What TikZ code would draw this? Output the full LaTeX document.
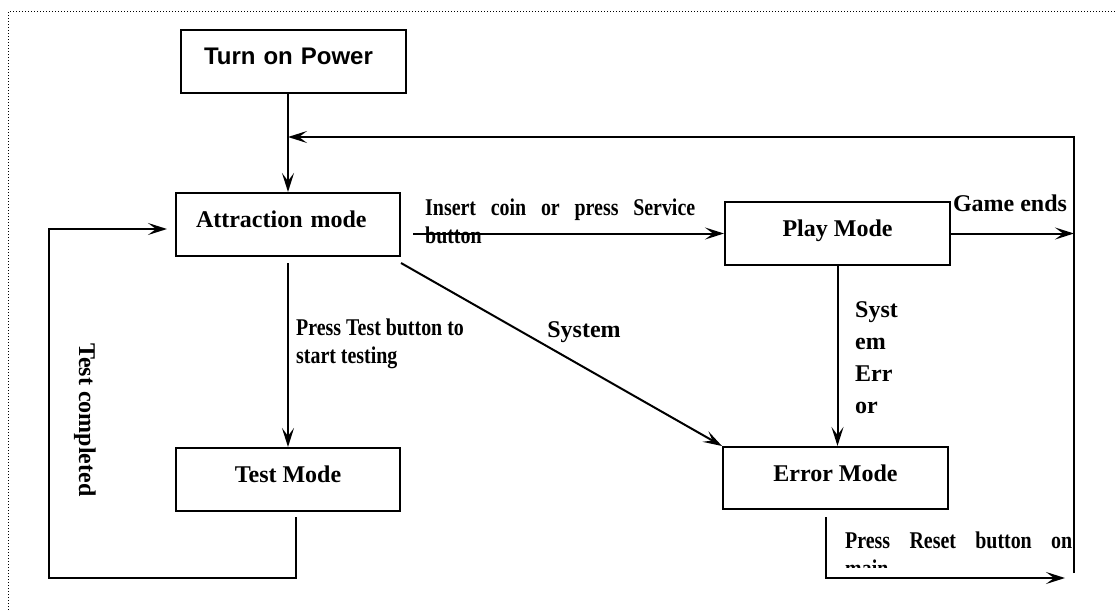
\documentclass[tikz,border=0pt]{standalone}
\usepackage{fontspec}
\setmainfont{Liberation Serif}
\newfontfamily\condfont{Liberation Serif}[FakeStretch=0.83]
\newfontfamily\arialfont{Liberation Sans}
\usetikzlibrary{positioning,arrows.meta,calc}
\newcommand\condset{\fontsize{24}{28}\selectfont\condfont\bfseries
  \hyphenpenalty=10000\relax\exhyphenpenalty=10000\relax}
\tikzset{
  modebox/.style={rectangle,draw,line width=2pt,minimum width=224pt,
                  minimum height=63pt,text height=17pt,text depth=11pt,
                  inner sep=0pt,font=\fontsize{24}{28}\selectfont\bfseries},
  flow/.style={-{Stealth[length=19pt,width=12pt,inset=8pt]},line width=2pt},
  note/.style={inner sep=0pt,font=\fontsize{24}{28}\selectfont\bfseries},
  condnote/.style={note,font=\condset},
}
\begin{document}
\begin{tikzpicture}[x=1pt,y=-1pt]
\useasboundingbox (0,0) rectangle (1115,610);
\draw[dotted,line width=1pt] (8,610) -- (8,12) -- (1115,12);

% the five modes
\node[modebox, inner xsep=23pt, text width=179pt, align=left,
      font=\fontsize{24}{28}\selectfont\arialfont\bfseries]
      (power) at (293.5,61.5) {Turn on Power};
\node[modebox, inner xsep=20pt, text width=184pt, align=left]
      (attract) at (288,224.5) {Attraction mode};
\node[modebox, minimum width=225pt] (play) at (837.5,233.5) {Play Mode};
\node[modebox] (testm) at (288,479.5) {Test Mode};
\node[modebox, minimum width=225pt, minimum height=62pt] (errm) at (835.5,478) {Error Mode};

\coordinate (rtop) at (1074,137);
\coordinate (rbot) at (1074,573);
\coordinate (lbot) at (49,578);
\coordinate (rend) at (1065,578);

% transitions
\draw[flow] (power.south -| attract.north) -- (attract.north);
\draw[flow] (rbot) -- (rtop) -- (rtop -| attract.north);
\draw[flow] ([xshift=12pt]attract.east |- play.west) -- (play.west);
\draw[flow] (play.east) -- (play.east -| rtop);
\draw[flow] (play.south) -- (play.south |- errm.north);
\draw[flow] ([yshift=-6pt]attract.south east) -- (errm.north west);
\draw[flow] ([yshift=-6pt]attract.south) -- (testm.north);
\draw[flow] ([xshift=8pt,yshift=-5pt]testm.south) |- (lbot)
            |- ([xshift=-8pt,yshift=-4.5pt]attract.west);
\draw[flow] ([xshift=-9.5pt,yshift=-7pt]errm.south) |- (rend);

% labels
\node[condnote, anchor=north west, text width=270pt, align=justify] (lbcoin)
      at (425,199) {Insert coin or press Service button};
\node[note] (lbend) at (1010,203) {Game ends};
\node[note] (lbsys) at (584,332) {System};
\node[note, anchor=north west, align=left,
      font=\fontsize{24}{32}\selectfont\bfseries] (lberr) at (855,301)
      {Syst\\em\\Err\\or};
\node[condnote, anchor=north west, align=left] (lbtest) at (296,319)
      {Press Test button to\\start testing};
\node[note, rotate=-90] (lbdone) at (85,420) {Test completed};
\begin{scope}
\clip (830,520) rectangle (1080,567);
\node[condnote, anchor=north west, text width=227pt, align=justify] (lbreset)
      at (845,532) {Press Reset button on\linebreak main};
\end{scope}
\end{tikzpicture}
\end{document}
